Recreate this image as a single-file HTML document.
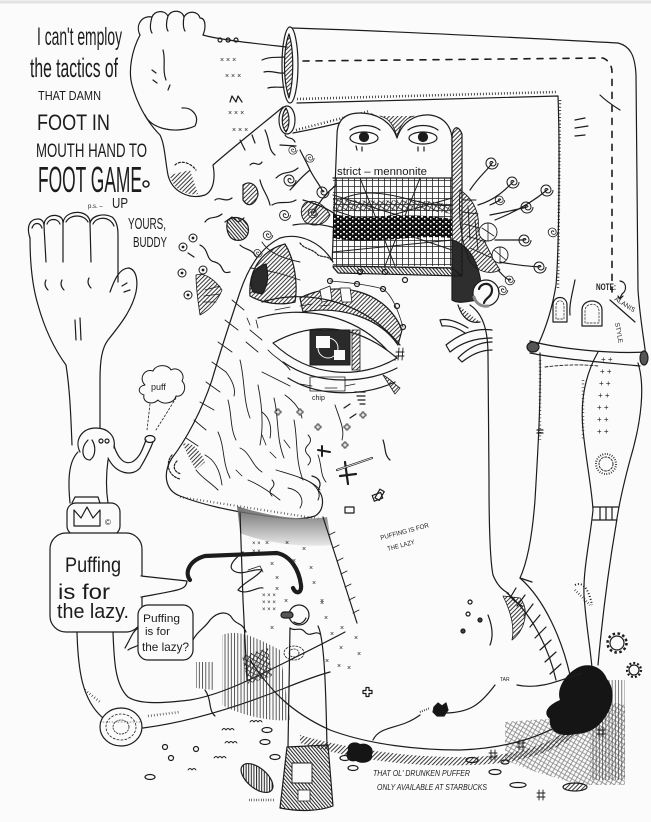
<!DOCTYPE html>
<html><head><meta charset="utf-8">
<style>
html,body{margin:0;padding:0;background:#fbfbfb;}
svg{display:block}
text{font-family:"Liberation Sans",sans-serif;fill:#1c1c1c}
</style></head><body>
<svg width="651" height="822" viewBox="0 0 651 822" xmlns="http://www.w3.org/2000/svg">
<defs>
<pattern id="hd" width="3" height="3" patternUnits="userSpaceOnUse" patternTransform="rotate(45)"><line x1="0.5" y1="0" x2="0.5" y2="3" stroke="#222" stroke-width="0.9"/></pattern>
<pattern id="hd2" width="2.6" height="3" patternUnits="userSpaceOnUse" patternTransform="rotate(-40)"><line x1="0.5" y1="0" x2="0.5" y2="3" stroke="#222" stroke-width="1"/></pattern>
<pattern id="hv" width="3.2" height="3" patternUnits="userSpaceOnUse"><line x1="1" y1="0" x2="1" y2="3" stroke="#333" stroke-width="0.8"/></pattern>
<pattern id="grid" width="6" height="6" patternUnits="userSpaceOnUse"><path d="M0 0.5H6M0.5 0V6" stroke="#222" stroke-width="0.8" fill="none"/></pattern>
<pattern id="xh" width="4" height="4" patternUnits="userSpaceOnUse" patternTransform="rotate(30)"><path d="M0 0.5H4M0.5 0V4" stroke="#222" stroke-width="0.8" fill="none"/></pattern>
<pattern id="chk" width="6" height="5" patternUnits="userSpaceOnUse"><rect width="6" height="5" fill="#111"/><rect x="1" y="1" width="2" height="1.6" fill="#fbfbfb"/><rect x="4" y="3" width="1.5" height="1.5" fill="#fbfbfb"/></pattern>
<linearGradient id="stub" x1="0" y1="0" x2="0" y2="1"><stop offset="0" stop-color="#555"/><stop offset="1" stop-color="#e4e4e4"/></linearGradient>
<g id="sp"><path d="M6,0 A6,6 0 0 1 -6,0 A5,5 0 0 1 4,0 A3,3 0 0 1 -2,0 A1.5,1.5 0 0 1 1,0" fill="none" stroke="#1c1c1c" stroke-width="1"/></g>
<g id="eb"><circle r="4" fill="#fbfbfb" stroke="#1c1c1c" stroke-width="1"/><circle r="1.4" fill="#1c1c1c"/></g>
<g id="pl"><path d="M-3,-1 H-1 V-3 H1 V-1 H3 V1 H1 V3 H-1 V1 H-3 Z" fill="#fbfbfb" stroke="#1c1c1c" stroke-width="0.8"/></g>
</defs>

<rect x="0" y="0" width="651" height="822" fill="#fbfbfb"/>
<line x1="0" y1="2" x2="651" y2="2" stroke="#e2e2e2" stroke-width="3"/>

<!-- ===== TEXT TOP LEFT ===== -->
<text x="37" y="45" font-size="25" textLength="85" lengthAdjust="spacingAndGlyphs">I can't employ</text>
<text x="30" y="77" font-size="27" textLength="88" lengthAdjust="spacingAndGlyphs">the tactics  of</text>
<text x="38" y="100" font-size="12.5" textLength="63" lengthAdjust="spacingAndGlyphs">THAT DAMN</text>
<text x="37" y="130" font-size="22" textLength="73" lengthAdjust="spacingAndGlyphs">FOOT IN</text>
<text x="36" y="157" font-size="19" textLength="111" lengthAdjust="spacingAndGlyphs">MOUTH HAND TO</text>
<text x="38" y="192" font-size="36" textLength="104" lengthAdjust="spacingAndGlyphs">FOOT GAME</text>
<circle cx="146" cy="184" r="3" fill="none" stroke="#1c1c1c" stroke-width="1.5"/>
<text x="88" y="208" font-size="6">p.s. –</text>
<text x="112" y="208" font-size="15" textLength="16" lengthAdjust="spacingAndGlyphs">UP</text>
<text x="128" y="229" font-size="16" textLength="38" lengthAdjust="spacingAndGlyphs">YOURS,</text>
<text x="133" y="247" font-size="15" textLength="34" lengthAdjust="spacingAndGlyphs">BUDDY</text>

<g fill="none" stroke="#1c1c1c" stroke-width="1.2" stroke-linejoin="round" stroke-linecap="round">

<!-- ===== BIG PIPE ===== -->
<path d="M290,28 C400,31 520,38 618,43 C630,46 635,55 636,75 L638,290 C640,320 645,345 646,358"/>
<path d="M297,103 C380,101 480,98 558,96 C560,150 559,250 556,285 C552,310 545,330 538,345"/>
<path d="M297,99 L556,92" stroke-width="2.5" stroke-dasharray="0.8,2.2" stroke-linecap="butt"/>
<path d="M560,100 L558,290" stroke-width="2.5" stroke-dasharray="0.8,2.6" stroke-linecap="butt"/>
<path d="M293,133 C320,128 345,122 372,114"/>
<path d="M296,130 L370,111" stroke-width="2.5" stroke-dasharray="0.8,2.4" stroke-linecap="butt"/>
<path d="M303,61 L603,58 C608,60 612,65 612,72 L612,292" stroke-width="1.6" stroke-dasharray="6,7"/>
<path d="M600,95 C605,100 612,105 620,110" />
<path d="M575,120 L585,118 M575,128 L588,126 M575,136 L585,135"/>
<ellipse cx="290" cy="65" rx="8" ry="38" fill="#fbfbfb"/>
<path d="M289,34 C283,50 283,80 289,98 C294,80 294,50 289,34Z" fill="url(#hd)"/>
<ellipse cx="287" cy="120" rx="8" ry="14" fill="#fbfbfb"/>
<path d="M286,108 C281,115 281,126 286,132 C290,126 290,115 286,108Z" fill="url(#hd)"/>
<!-- fingers from pipe -->
<path d="M262,60 C270,56 278,58 284,57 M264,72 C272,70 278,74 284,73 M268,88 C274,86 280,88 284,87"/>
<!-- windows -->
<path d="M553,322 L553,305 C553,295 567,295 567,305 L567,322 Z"/>
<path d="M556,319 L556,306 C556,299 564,299 564,306 L564,319Z" stroke-width="0.7" stroke-dasharray="2,1.5"/>
<path d="M582,326 L582,310 C582,298 602,298 602,310 L602,326Z"/>
<path d="M585,323 L585,311 C585,302 599,302 599,311 L599,323Z" stroke-width="0.7" stroke-dasharray="2,1.5"/>
<path d="M575,280 C572,295 569,305 570,315"/>
<!-- cuff -->
<path d="M530,341 C560,349 610,354 646,352"/>
<path d="M530,353 C560,359 600,362 640,366"/>
<ellipse cx="533" cy="347" rx="6" ry="5" fill="#555"/>
<ellipse cx="644" cy="358" rx="4" ry="7" fill="#555"/>
<!-- lower legs -->
<path d="M540,353 C541,400 538,450 535,500 C532,540 526,565 520,578"/>
<path d="M537,430 L543,430 M537,433 L543,433"/>
<path d="M545,367 C560,365 580,364 598,366" stroke-dasharray="3,2" stroke-width="0.9"/>
<path d="M540,360 L540,440" stroke-width="2.5" stroke-dasharray="0.6,3" stroke-linecap="butt"/>
<path d="M598,352 C585,375 580,400 583,430 C586,460 592,490 593,510 C590,540 583,570 584,595 C586,625 590,645 592,668"/>
<path d="M638,363 C645,385 642,420 630,460 C622,490 618,510 616,525 C610,560 603,610 598,665"/>
<path d="M593,507 L619,507 M593,520 L617,520 M600,507 L600,520 M606,507 L606,520 M612,507 L612,520"/>
<circle cx="606" cy="464" r="7" stroke-dasharray="2,1.5" stroke-width="0.9"/>
<circle cx="606" cy="464" r="10" stroke-dasharray="0.8,1.6" stroke-width="2" stroke-linecap="butt"/>
<path d="M583,380 L583,440" stroke-width="2.5" stroke-dasharray="0.6,3" stroke-linecap="butt"/>
<path d="M610,300 L635,322"/>
<path d="M620,281 C627,282 627,291 622,294 L620,298 M618,296 L620,299 L623,296"/>

<!-- ===== HEAD RIGHT LINE, EAR ===== -->
<path d="M470,305 C485,315 488,335 488,355 L489,480 C489,530 490,560 493,575 C497,585 502,590 508,593"/>
<path d="M452,240 C470,245 482,265 482,300 C470,300 460,305 452,300 Z" fill="#2e2e2e"/>
<circle cx="486" cy="293" r="13" fill="#fbfbfb"/>
<path d="M479,289 C481,282 492,282 492,290 C492,297 485,298 484,303" stroke-width="2.2"/>
<path d="M474,297 C476,304 482,307 488,306" fill="none" stroke="#888" stroke-width="3"/>
<path d="M458,305 C462,318 470,324 480,322" fill="url(#hd)"/>
<path d="M492,330 C478,328 462,332 446,345 L450,352 C462,342 476,338 492,338 M492,342 C480,342 468,348 458,358 L462,362 C472,354 482,350 492,350 M468,328 C458,322 448,318 440,320 L442,326 C450,325 458,328 465,333"/>

<!-- ===== FOOT TOP ===== -->
<path d="M140,35 C135,25 142,15 152,17 C155,10 165,10 168,16 C172,9 182,10 184,17 C188,10 198,11 200,18 C206,18 206,28 203,35" fill="#fbfbfb"/>
<path d="M152,17 C150,24 150,30 152,33 M168,16 C166,22 166,28 168,31 M184,17 C183,22 183,28 185,31"/>
<path d="M203,35 C220,40 260,44 287,47"/>
<path d="M140,35 C132,50 128,70 132,85 C136,100 145,120 160,135 C165,145 165,160 168,175 C172,192 190,200 205,195 C215,190 215,175 213,165 C230,150 255,130 277,112 L283,107"/>
<path d="M145,115 C150,128 175,135 195,126 C200,116 192,107 182,108"/>
<path d="M170,175 C172,188 185,196 198,194 L190,170 Z" fill="url(#hd)" stroke="none"/>
<path d="M175,165 C180,160 190,162 196,170" stroke-dasharray="2,2"/>
<path d="M163,50 C166,60 162,70 166,80 M152,70 L156,73 M153,80 L157,83 M170,85 L168,90"/>
<text x="220" y="62" font-size="7" stroke="none">× × ×</text>
<text x="225" y="78" font-size="7" stroke="none">× × ×</text>
<text x="228" y="115" font-size="7" stroke="none">× × ×</text>
<text x="232" y="132" font-size="7" stroke="none">× × ×</text>
<path d="M220,38 a2,2 0 1 0 0.1,0 M228,38 a2,2 0 1 0 0.1,0 M236,38 a2,2 0 1 0 0.1,0"/>
<path d="M230,102 L232,96 L236,102 L238,96 L242,102" />
<path d="M240,140 L245,150 M252,135 L255,143"/>

<!-- ===== LEFT HAND & ARM ===== -->
<path d="M30,238 C26,226 30,219 38,219 C42,219 44,222 44,226 C44,217 52,214 58,216 C62,217 63,220 63,223 C64,214 74,211 82,213 C88,215 90,219 90,223 C92,215 104,213 112,217 C117,221 118,228 118,235 L118,282"/>
<path d="M30,238 C30,260 32,285 38,305 C45,330 55,350 66,365 C70,390 71,420 72,445"/>
<path d="M110,292 C115,278 120,268 129,268 C137,270 138,282 136,292 C132,310 120,325 108,340 C102,348 100,360 100,380 L100,430"/>
<path d="M44,226 L46,262 M63,223 L63,262 M90,223 L91,262"/>
<path d="M32,228 C34,222 40,222 42,228 M47,224 C49,218 58,218 60,224 M66,222 C70,214 84,214 88,222 M93,224 C97,216 110,216 114,226"/>
<path d="M46,280 C44,284 45,287 48,290 M62,280 C60,284 61,287 64,290 M89,278 C87,282 88,285 91,288 M75,320 L76,340 M80,318 L81,340 M122,286 L127,283 M124,292 L130,290"/>

<!-- puff cloud -->
<path d="M145,385 C138,378 145,368 153,371 C156,364 168,364 171,370 C178,366 186,374 182,381 C188,387 183,398 176,396 C174,404 162,405 158,400 C152,406 142,402 144,395 C137,393 138,386 145,385Z" stroke-width="1"/>
<path d="M150,404 L147,430 M176,398 L156,430" stroke-dasharray="2,2" stroke-width="0.8"/>
<!-- elephant -->
<path d="M80,452 C74,440 82,428 96,428 C108,428 116,436 114,448" fill="#fbfbfb"/>
<path d="M88,440 C80,448 82,460 90,460 C96,456 96,446 92,440"/>
<path d="M114,446 C118,458 124,465 132,462 C140,458 143,448 146,440"/>
<path d="M108,458 C116,474 132,477 140,468 C146,458 150,450 153,442"/>
<ellipse cx="150" cy="439" rx="5" ry="3.5"/>
<circle cx="101" cy="441" r="2"/><circle cx="107" cy="441" r="2"/>
<path d="M78,452 C68,462 68,482 70,503 M108,460 C106,475 106,490 108,503"/>
<!-- crown box -->
<rect x="67" y="503" width="53" height="32" rx="9" fill="#fbfbfb"/>
<path d="M74,526 L74,510 L81,518 L87,507 L93,518 L100,510 L100,526 Z"/>
<path d="M72,503 L75,497 L98,497 L100,503"/>
<text x="105" y="525" font-size="8" stroke="none">©</text>

<!-- speech bubble -->
<rect x="50" y="533" width="92" height="99" rx="16" fill="#fbfbfb"/>
<path d="M141,576 L187,581 C186,590 180,590 141,597" fill="#fbfbfb"/>
<line x1="141" y1="578" x2="141" y2="595" stroke="#fbfbfb" stroke-width="3"/>

<!-- U tube -->
<path d="M77,632 C78,670 82,700 103,718"/>
<path d="M113,632 C114,660 115,685 128,697 C140,705 165,703 190,700 C220,695 250,680 290,660 C310,650 330,640 345,632"/>
<path d="M143,728 C190,722 240,706 285,688 C300,682 315,676 330,672"/>
<path d="M85,690 L100,702" stroke-width="2.5" stroke-dasharray="0.6,2.4" stroke-linecap="butt"/>
<ellipse cx="121" cy="727" rx="21" ry="19" fill="#fbfbfb"/>
<ellipse cx="121" cy="727" rx="15" ry="13" stroke-dasharray="2,2" stroke-width="0.8"/>
<ellipse cx="121" cy="727" rx="8" ry="7" stroke-dasharray="1.5,1.5" stroke-width="0.8"/>
<path d="M100,722 L142,722" stroke-width="0.6" stroke-dasharray="1,2"/>
<path d="M148,716 L180,712" stroke-width="2.5" stroke-dasharray="0.6,2.4" stroke-linecap="butt"/>

<!-- small bubble + hills -->
<path d="M125,648 C130,640 132,632 138,628"/>
<path d="M192,642 C196,632 205,628 210,620 C218,611 228,611 232,618 C236,625 242,622 246,632"/>
<path d="M128,650 C135,645 140,648 140,640" />
<rect x="138" y="605" width="55" height="55" rx="10" fill="#fbfbfb"/>

<!-- hatched areas middle-left bottom -->
<path d="M196,662 L214,662 L214,690 L196,688 Z" fill="url(#hv)" stroke="none"/>
<path d="M222,635 C240,628 260,640 280,650 L290,720 C270,722 240,715 222,705 Z" fill="url(#hv)" stroke="none"/>
<path d="M242,656 L268,648 L272,676 L248,684 Z" fill="url(#xh)" stroke="none"/>
<path d="M205,690 C212,700 208,710 215,716"/>

<!-- ===== MENNONITE BLOCK ===== -->
<path d="M332,266 L337,135 C337,120 345,113 360,113 C380,113 393,125 397,138 C402,122 415,114 430,115 C445,117 452,128 452,140 L452,268 Z" fill="#fbfbfb"/>
<path d="M452,140 C452,126 458,124 462,134 L462,276 L452,268 Z" fill="url(#hd)"/>
<path d="M332,266 L452,268 L462,276 L338,273 Z" fill="url(#hd2)"/>
<path d="M380,116 C390,118 395,128 397,138 C399,128 404,118 414,116" fill="url(#hd)" stroke-width="0.8"/>
<rect x="333" y="178" width="119" height="88" fill="url(#grid)" stroke="none"/>
<path d="M333,178 L452,178"/>
<path d="M333,195 L452,232 M333,232 L452,198 M360,178 L395,266 M420,178 L385,266 M333,252 L452,240 M340,200 C380,180 420,210 452,205 M333,210 L452,250" stroke-width="1"/>
<path d="M333,214 C370,222 400,210 452,219 L452,238 C410,234 370,246 333,238Z" fill="url(#chk)" stroke="none"/>
<path d="M333,198 C370,205 410,195 452,205 L452,214 C410,206 370,214 333,210Z" fill="url(#xh)" stroke="none"/>
<ellipse cx="364" cy="138" rx="14" ry="6" fill="#fbfbfb"/>
<circle cx="364" cy="137" r="4.5" fill="#1c1c1c"/>
<ellipse cx="423" cy="138" rx="14" ry="6" fill="#fbfbfb"/>
<circle cx="423" cy="137" r="4.5" fill="#1c1c1c"/>
<path d="M350,130 C358,124 372,124 380,130 M408,130 C416,124 430,124 438,130 M356,146 L357,150 M362,147 L362,151 M418,147 L418,151 M424,147 L424,151"/>
</g>
<text x="337" y="175" font-size="11" textLength="90" lengthAdjust="spacingAndGlyphs">strict – mennonite</text>

<g fill="none" stroke="#1c1c1c" stroke-width="1.2" stroke-linejoin="round" stroke-linecap="round">
<!-- right decorative scales -->
<path d="M460,190 C475,200 480,215 478,230 C485,240 490,255 500,270 C490,275 478,272 470,262 C462,245 458,220 460,190Z" fill="url(#hd)" stroke-width="0.9"/>
<path d="M462,200 L476,200 M463,212 L478,214 M464,224 L480,228 M467,236 L486,242 M470,248 L492,258 M468,206 L470,240 M475,220 L478,250" stroke-width="0.9"/>
<circle cx="488" cy="232" r="9" fill="#fbfbfb" stroke-width="0.9"/>
<circle cx="500" cy="255" r="8" fill="#fbfbfb" stroke-width="0.9"/>
<path d="M482,228 L494,236 M488,223 L488,241 M494,250 L506,260 M500,247 L500,263" stroke-width="0.8"/>
<!-- swirl stems right -->
<path d="M470,190 C480,175 488,170 492,163 M478,205 C495,200 505,190 513,182 M490,215 C505,212 515,210 527,207 M495,220 C520,210 535,200 547,190 M495,240 C505,240 515,240 525,240 M500,262 C515,265 525,266 540,267 M498,270 C505,278 508,280 510,280 M490,205 C495,203 498,201 500,200"/>
<!-- swirl stems left -->
<path d="M300,150 C305,160 308,165 310,170 C300,178 295,185 290,190 M310,170 C315,180 320,185 323,192 M313,213 C320,200 330,190 336,185 M303,200 C320,205 330,210 336,215 M293,225 C310,222 325,225 336,228"/>
<path d="M276,178 C284,170 290,175 298,168"/>
<path d="M272,205 C280,200 288,205 296,200"/>
<path d="M305,203 C315,198 325,205 330,215 C325,225 315,228 305,222 C300,215 300,208 305,203Z" fill="url(#hd)" stroke-width="0.9"/>

<!-- doodles left of head -->
<path d="M243,185 C250,180 258,185 258,195 C255,205 248,208 243,200 Z" fill="url(#hd)"/>
<path d="M228,220 C235,215 245,218 248,226 C250,235 245,242 235,240 C228,238 225,228 228,220Z" fill="url(#hd2)"/>
<path d="M225,222 L232,217 L238,222 L244,218"/>
<path d="M196,275 C205,272 215,280 222,290 C218,300 210,310 200,315 C198,300 196,290 196,275Z" fill="url(#hd)" stroke-width="0.8"/>
<path d="M205,290 L220,286 M204,296 L220,294 M203,302 L216,302" stroke-width="0.8"/>
<path d="M200,245 C210,250 205,260 215,262 C225,265 220,275 230,272"/>
<path d="M188,253 L194,257 M205,222 C210,215 215,220 222,214 M215,200 C220,196 225,203 232,198 M250,165 C255,160 258,168 262,162 M260,180 C262,190 268,195 270,205 M265,130 C270,140 268,150 275,155"/>
<path d="M240,245 C245,250 250,248 255,255 C258,260 262,258 265,265"/>
<path d="M285,135 C288,140 292,136 295,142 M280,145 L296,146"/>

<!-- ===== BIG HEAD ===== -->
<path d="M333,262 C322,243 300,232 280,238 C260,248 248,268 240,292 C230,322 220,352 212,380 C202,410 186,440 172,458 C163,472 164,490 180,496 C200,504 230,511 260,515 C280,518 300,521 315,516 C325,510 324,496 318,490 C322,484 320,478 312,476" fill="#fbfbfb"/>
<path d="M262,242 C270,255 290,260 300,262 M250,268 C270,270 285,275 300,280" stroke-width="0.9"/>
<!-- left socket -->
<path d="M250,296 C248,270 262,250 285,244 C295,260 298,285 295,302 C280,306 262,303 250,296Z" fill="url(#hd)"/>
<path d="M253,292 C248,280 252,268 266,264 C269,276 268,286 262,294 Z" fill="#2a2a2a"/>
<path d="M300,243 C305,250 312,248 318,255 C324,258 328,255 333,262" stroke-dasharray="2,1.5"/>
<!-- eye region -->
<path d="M300,298 C335,280 385,288 402,330 L398,345 C380,318 340,305 303,312 Z" fill="url(#hd)"/>
<path d="M320,290 L330,286 L332,300 L322,302 Z M340,288 L350,288 L352,302 L342,302Z" fill="#fbfbfb" stroke-width="0.8"/>
<path d="M262,302 C300,290 360,296 400,345"/>
<path d="M258,318 C300,305 360,312 395,360"/>
<path d="M275,310 L290,307 M300,306 L312,304 M320,306 L330,305" stroke-width="0.8"/>
<path d="M273,343 C310,322 355,322 397,358 C360,380 310,378 273,343 Z" fill="#fbfbfb"/>
<rect x="310" y="330" width="40" height="35" fill="#2a2a2a" stroke-width="1"/>
<rect x="316" y="336" width="14" height="12" fill="#fbfbfb" stroke="none"/>
<rect x="334" y="350" width="11" height="10" fill="#fbfbfb" stroke="none"/>
<circle cx="328" cy="348" r="10" stroke="#fbfbfb" stroke-width="1"/>
<rect x="352" y="330" width="8" height="40" fill="url(#hd)" stroke-width="0.8"/>
<path d="M283,362 C320,388 370,382 397,368 M288,378 C320,398 365,396 395,382" />
<path d="M300,384 L312,386 M325,388 L337,388 M345,386 L355,384" stroke-width="0.8"/>
<rect x="310" y="377" width="35" height="14" stroke-width="0.8"/>
<path d="M355,392 L365,392 M357,396 L365,396 M358,400 L365,400 M360,404 L365,404"/>
<path d="M383,375 C392,380 395,385 400,388 L395,394 Z" fill="url(#hd)" stroke-width="0.8"/>
<!-- circles around eye -->
<circle cx="330" cy="281" r="2.5"/><circle cx="357" cy="284" r="2.5"/><circle cx="383" cy="289" r="2.5"/><circle cx="397" cy="306" r="2.5"/><circle cx="403" cy="327" r="2.5"/><circle cx="360" cy="272" r="2.5"/><circle cx="385" cy="272" r="2.5"/><circle cx="405" cy="280" r="2.5"/>
<path d="M330,281 C345,282 370,285 383,289 C392,295 398,310 403,327" stroke-width="0.8"/>
<path d="M396,352 L404,352 M396,356 L404,356 M399,348 L398,360 M403,348 L402,360" stroke-width="0.9"/>
<!-- face edge ticks -->
<path d="M232,300 L244,310 M225,320 L238,330 M218,342 L232,352 M212,362 L226,372 M206,382 L220,392 M200,402 L214,410 M194,420 L206,430 M186,438 L198,446" stroke-width="0.9"/>
<!-- wrinkles -->
<path d="M240,360 C245,380 243,400 250,418 M258,385 C262,405 264,425 260,445 M274,398 C279,418 276,438 284,458 M294,420 C298,440 295,460 303,480 M218,432 C225,447 222,462 230,478 M240,448 C250,452 252,466 262,472 M276,470 C296,476 312,480 320,490 M308,435 q5,5 0,10 q-5,5 0,10 q5,5 0,10 M268,350 C275,358 285,362 290,370 M262,372 L290,386 M335,405 C340,420 345,430 342,440 M250,330 L262,340 M246,342 L258,352" stroke-width="0.9"/>
<path d="M228,400 C232,415 230,428 236,440 M205,455 C215,460 220,470 222,485 M248,480 C260,485 270,492 280,500 M262,412 C270,418 272,428 270,438 M285,395 C292,400 300,408 302,418 M226,372 C232,380 236,388 234,396 M196,470 C202,478 210,482 218,490 M272,480 q4,4 0,8 q-4,4 0,8 M318,455 C322,465 320,475 326,482" stroke-width="0.9"/>
<path d="M247,318 L250,325 M256,320 L258,328 M262,435 L266,445 M270,452 L276,458 M284,440 L290,448 M236,470 L242,476" stroke-width="0.8"/>
<!-- nostril -->
<path d="M172,455 C165,463 168,476 180,479 M177,461 C172,466 174,472 181,474" stroke-dasharray="2,1.5"/>
<path d="M183,444 C192,441 200,450 205,462 L196,470 C190,460 186,452 183,444Z" fill="url(#hd)" stroke="none"/>
<path d="M300,478 C315,482 322,492 318,500 M288,488 C300,490 305,500 300,508" stroke-width="0.9"/>
<path d="M180,497 L320,519" stroke-width="2.2" stroke-dasharray="0.6,2.8" stroke-linecap="butt"/>

<!-- confetti on cheek -->
<use href="#pl" x="278" y="412"/><use href="#pl" x="300" y="412"/><use href="#pl" x="318" y="427"/><use href="#pl" x="347" y="427"/><use href="#pl" x="363" y="415"/><use href="#pl" x="345" y="445"/>
<path d="M318,450 L330,452 M322,446 L322,456" stroke-width="2"/>
<path d="M337,470 L372,458 M345,462 L348,484 M340,476 L356,474" stroke-width="2.2"/>
<path d="M337,470 L372,458" stroke="#fbfbfb" stroke-width="0.8"/>
<rect x="373" y="494" width="9" height="6" transform="rotate(-20 377 497)"/>
<rect x="345" y="507" width="9" height="6"/>
<rect x="377" y="490" width="5" height="10" transform="rotate(30 380 495)"/>
<path d="M383,440 C386,448 384,455 390,460"/>
<path d="M344,408 L350,404 M350,418 L356,414"/>

<!-- stubble -->
<path d="M237,506 C260,514 300,522 327,517 L332,545 C300,548 262,542 240,533 Z" fill="url(#stub)" stroke="none" opacity="0.85"/>
<!-- person / neck -->
<path d="M240,513 L243,600 L247,680"/>
<path d="M323,517 L357,623"/>
<path d="M329,535 L335,532 M333,548 L339,545 M337,561 L343,558 M341,574 L347,571 M345,587 L351,584 M349,600 L355,597 M353,613 L359,610" stroke-width="0.9"/>
<path d="M243,552 C233,560 226,568 236,572 C244,575 254,568 262,570 C256,578 244,582 238,590 C246,596 258,586 263,588"/>
<path d="M248,570 L260,566 L263,572" stroke-width="0.8"/>
<path d="M190,580 C184,572 190,560 205,556 L277,553 C291,556 299,570 301,585 C302,593 296,595 293,588" stroke-width="4.2"/>
<!-- bird head figure -->
<circle cx="299" cy="615" r="10" fill="#fbfbfb"/>
<rect x="281" y="612" width="12" height="6" rx="3" fill="#555"/>
<path d="M294,622 C300,626 304,622 306,618"/>
<path d="M290,628 C295,632 300,626 305,632 C310,638 315,630 320,634"/>
<path d="M290,628 L288,747 M318,626 C325,640 326,700 327,747"/>
<ellipse cx="294" cy="653" rx="10" ry="7" stroke-dasharray="2,1.5" stroke-width="0.8"/>
<ellipse cx="294" cy="653" rx="5" ry="4" stroke-dasharray="1.5,1.5" stroke-width="0.8"/>
<!-- pants -->
<path d="M287,747 L328,745 L333,806 C320,811 300,812 280,808 Z" fill="url(#hd2)"/>
<rect x="292" y="763" width="20" height="20" fill="#fbfbfb" stroke-width="0.9"/>
<ellipse cx="257" cy="778" rx="19" ry="10" transform="rotate(40 257 778)" fill="url(#hd2)"/>
<rect x="298" y="790" width="12" height="11" fill="#fbfbfb" stroke-width="0.8"/>
<path d="M249,800 L275,800" stroke-width="2.5" stroke-dasharray="0.6,1.8" stroke-linecap="butt"/>

<!-- ===== BASE / BOTTOM ===== -->
<path d="M250,660 C270,690 290,712 330,730 C370,745 420,750 460,750 C510,748 545,736 575,716"/>
<path d="M508,593 C512,600 518,604 522,606"/>
<path d="M520,578 L532,582"/>
<!-- ladder -->
<path d="M520,578 C545,600 562,640 570,675 M507,593 C530,612 548,645 556,680"/>
<path d="M516,588 L510,598 M525,595 L517,606 M533,604 L524,616 M540,615 L530,627 M546,627 L535,638 M551,640 L540,650 M556,652 L545,662 M561,664 L550,674"/>
<path d="M503,596 C510,610 515,625 512,640 C525,630 530,610 520,598 Z" fill="url(#hd)" stroke-width="0.8"/>
<path d="M488,615 C492,625 494,635 490,645 M470,600 a2,2 0 1 0 0.1,0 M468,612 a2,2 0 1 0 0.1,0"/>
<circle cx="480" cy="620" r="2" fill="#444"/><circle cx="463" cy="631" r="2" fill="#444"/>
<path d="M575,590 C580,595 585,600 590,605" stroke-width="2.5" stroke-dasharray="0.6,2" stroke-linecap="butt"/>
<!-- hatch strip along base -->
<path d="M300,735 C360,752 420,758 470,757 C520,755 548,745 575,725 L580,733 C552,753 520,764 470,765 C420,767 360,762 300,743 Z" fill="url(#hd)" stroke="none"/>
<path d="M505,722 L560,718 L600,700 L625,705 L625,785 L580,785 L530,770 L505,760 Z" fill="url(#xh)" stroke="none" opacity="0.55"/>
<path d="M590,680 L625,680 L625,780 L590,780 Z" fill="url(#hv)" stroke="none" opacity="0.8"/>
<path d="M560,700 C556,688 566,674 577,668 C588,662 602,666 607,679 C616,690 613,706 606,716 C600,726 590,734 575,734 C560,738 548,731 550,719 C542,713 548,705 560,700 Z" fill="#151515" stroke="none"/>
<path d="M348,750 C346,744 354,740 360,744 C368,742 375,748 372,755 C374,762 362,765 356,761 C348,763 344,756 348,750Z" fill="#151515" stroke="none"/>
<path d="M434,707 L438,703 L442,706 L446,703 L448,710 L444,716 L437,716 L433,712 Z" fill="#151515"/>
<path d="M420,712 L430,708" stroke-width="2" stroke-dasharray="0.7,1.5" stroke-linecap="butt"/>
<path d="M373,740 C380,725 400,730 420,715 M447,713 C470,712 480,705 495,685 M517,685 C540,690 560,680 582,673"/>
<!-- ovals and marks -->
<ellipse cx="267" cy="730" rx="5" ry="2.5"/><ellipse cx="265" cy="742" rx="5" ry="2.5"/><ellipse cx="275" cy="757" rx="5" ry="2.5"/><ellipse cx="345" cy="758" rx="5" ry="2.5"/><ellipse cx="353" cy="768" rx="5" ry="2.5"/>
<ellipse cx="472" cy="760" rx="6" ry="2.5"/><ellipse cx="495" cy="772" rx="6" ry="2.5"/><ellipse cx="505" cy="762" rx="4" ry="2"/><ellipse cx="518" cy="785" rx="8" ry="2.5"/>
<ellipse cx="575" cy="787" rx="12" ry="4" fill="url(#hd)"/>
<ellipse cx="150" cy="777" rx="5" ry="2.5"/>
<circle cx="165" cy="747" r="2.5"/><circle cx="171" cy="758" r="2.5"/><circle cx="196" cy="749" r="2.5"/>
<path d="M250,722 q2,-3 4,0 q2,-3 4,0 q2,-3 4,0 M222,730 q2,-3 4,0 q2,-3 4,0 q2,-3 4,0 M225,743 q2,-3 4,0 q2,-3 4,0 q2,-3 4,0 M214,758 q2,-3 4,0 q2,-3 4,0 q2,-3 4,0 M188,770 q2,-3 4,0 q2,-3 4,0" stroke-width="0.9"/>
<path d="M537,793 L545,793 M537,797 L545,797 M539,790 L539,800 M543,790 L543,800 M489,753 L497,753 M489,757 L497,757 M491,750 L491,760 M495,750 L495,760 M517,743 L525,743 M517,747 L525,747 M519,740 L519,750 M523,740 L523,750 M597,730 L605,730 M597,734 L605,734 M599,727 L599,737 M603,727 L603,737" stroke-width="0.9"/>
<use href="#pl" x="367" y="692" transform="translate(-183 -346) scale(1.5)"/>
<!-- gears -->
<circle cx="617" cy="643" r="7"/><circle cx="617" cy="643" r="9.5" stroke-dasharray="2.5,2.5" stroke-width="2.5" stroke-linecap="butt"/>
<circle cx="634" cy="670" r="5"/><circle cx="634" cy="670" r="7" stroke-dasharray="2,2" stroke-width="2.2" stroke-linecap="butt"/>
<path d="M575,585 C585,580 590,595 592,605" stroke-dasharray="1,2" stroke-width="2" stroke-linecap="butt"/>
</g>

<!-- spirals -->
<g>
<use href="#sp" transform="translate(492,163)"/><use href="#sp" transform="translate(513,182)"/><use href="#sp" transform="translate(527,207)"/><use href="#sp" transform="translate(547,190)"/><use href="#sp" transform="translate(500,200) scale(0.8)"/><use href="#sp" transform="translate(525,240)"/><use href="#sp" transform="translate(540,267)"/><use href="#sp" transform="translate(510,280) scale(0.8)"/><use href="#sp" transform="translate(553,232) scale(0.8)"/>
<use href="#sp" transform="translate(293,150) scale(0.7)"/><use href="#sp" transform="translate(310,158) scale(0.7)"/><use href="#sp" transform="translate(290,180)"/><use href="#sp" transform="translate(323,192)"/><use href="#sp" transform="translate(313,213) scale(0.8)"/><use href="#sp" transform="translate(285,215) scale(0.9)"/><use href="#sp" transform="translate(268,235) scale(0.8)"/><use href="#sp" transform="translate(258,253) scale(0.7)"/>
<use href="#sp" transform="translate(503,290) scale(0.8)"/>
</g>
<use href="#eb" x="193" y="238"/><use href="#eb" x="183" y="247"/><use href="#eb" x="182" y="273"/><use href="#eb" x="203" y="270"/><use href="#eb" x="188" y="295"/>

<!-- x marks -->
<g font-size="7" fill="#1c1c1c">
<text x="265" y="545">×</text><text x="285" y="545">×</text><text x="302" y="551">×</text><text x="292" y="563">×</text><text x="309" y="570">×</text><text x="270" y="566">×</text><text x="275" y="580">×</text><text x="312" y="585">×</text><text x="275" y="591">×</text><text x="284" y="603">×</text><text x="320" y="605">×</text><text x="324" y="620">×</text><text x="270" y="630">×</text><text x="330" y="636">×</text><text x="339" y="650">×</text><text x="354" y="640">×</text><text x="337" y="668">×</text><text x="357" y="656">×</text><text x="325" y="663">×</text><text x="347" y="670">×</text><text x="320" y="603">×</text><text x="340" y="630">×</text>
<text x="252" y="545" font-size="6">× ×</text><text x="252" y="553" font-size="6">× ×</text>
<text x="262" y="597" font-size="6">× × ×</text><text x="262" y="604" font-size="6">× × ×</text><text x="262" y="611" font-size="6">× × ×</text>
</g>

<!-- other texts -->
<text x="151" y="390" font-size="9">puff</text>
<text x="312" y="400" font-size="7">chip</text>
<text x="596" y="290" font-size="9" font-weight="bold" textLength="20" lengthAdjust="spacingAndGlyphs">NOTE:</text>
<text x="614" y="300" font-size="6.5" transform="rotate(32 614 300)">ALANIS</text>
<text x="615" y="323" font-size="6.5" transform="rotate(80 615 323)">STYLE</text>
<text x="65" y="572" font-size="21" textLength="56" lengthAdjust="spacingAndGlyphs">Puffing</text>
<text x="58" y="599" font-size="21" textLength="52" lengthAdjust="spacingAndGlyphs">is for</text>
<text x="57" y="618" font-size="20" textLength="72" lengthAdjust="spacingAndGlyphs">the lazy.</text>
<text x="143" y="622" font-size="11" textLength="37" lengthAdjust="spacingAndGlyphs">Puffing</text>
<text x="145" y="635" font-size="11" textLength="25" lengthAdjust="spacingAndGlyphs">is for</text>
<text x="142" y="651" font-size="12" textLength="47" lengthAdjust="spacingAndGlyphs">the lazy?</text>
<text x="381" y="540" font-size="6.5" transform="rotate(-15 381 540)" textLength="50" lengthAdjust="spacingAndGlyphs">PUFFING IS FOR</text>
<text x="388" y="551" font-size="6.5" transform="rotate(-15 388 551)" textLength="28" lengthAdjust="spacingAndGlyphs">THE LAZY</text>
<text x="500" y="681" font-size="5">TAR</text>
<text x="373" y="776" font-size="8.5" font-style="italic" textLength="97" lengthAdjust="spacingAndGlyphs">THAT OL' DRUNKEN PUFFER</text>
<text x="377" y="790" font-size="8.5" font-style="italic" textLength="110" lengthAdjust="spacingAndGlyphs">ONLY AVAILABLE AT STARBUCKS</text>
<g font-size="8" fill="#1c1c1c"><text x="601" y="362">+ +</text><text x="600" y="374">+ +</text><text x="599" y="386">+ +</text><text x="598" y="398">+ +</text><text x="597" y="410">+ +</text><text x="597" y="422">+ +</text><text x="597" y="434">+ +</text></g>
</svg>
</body></html>
